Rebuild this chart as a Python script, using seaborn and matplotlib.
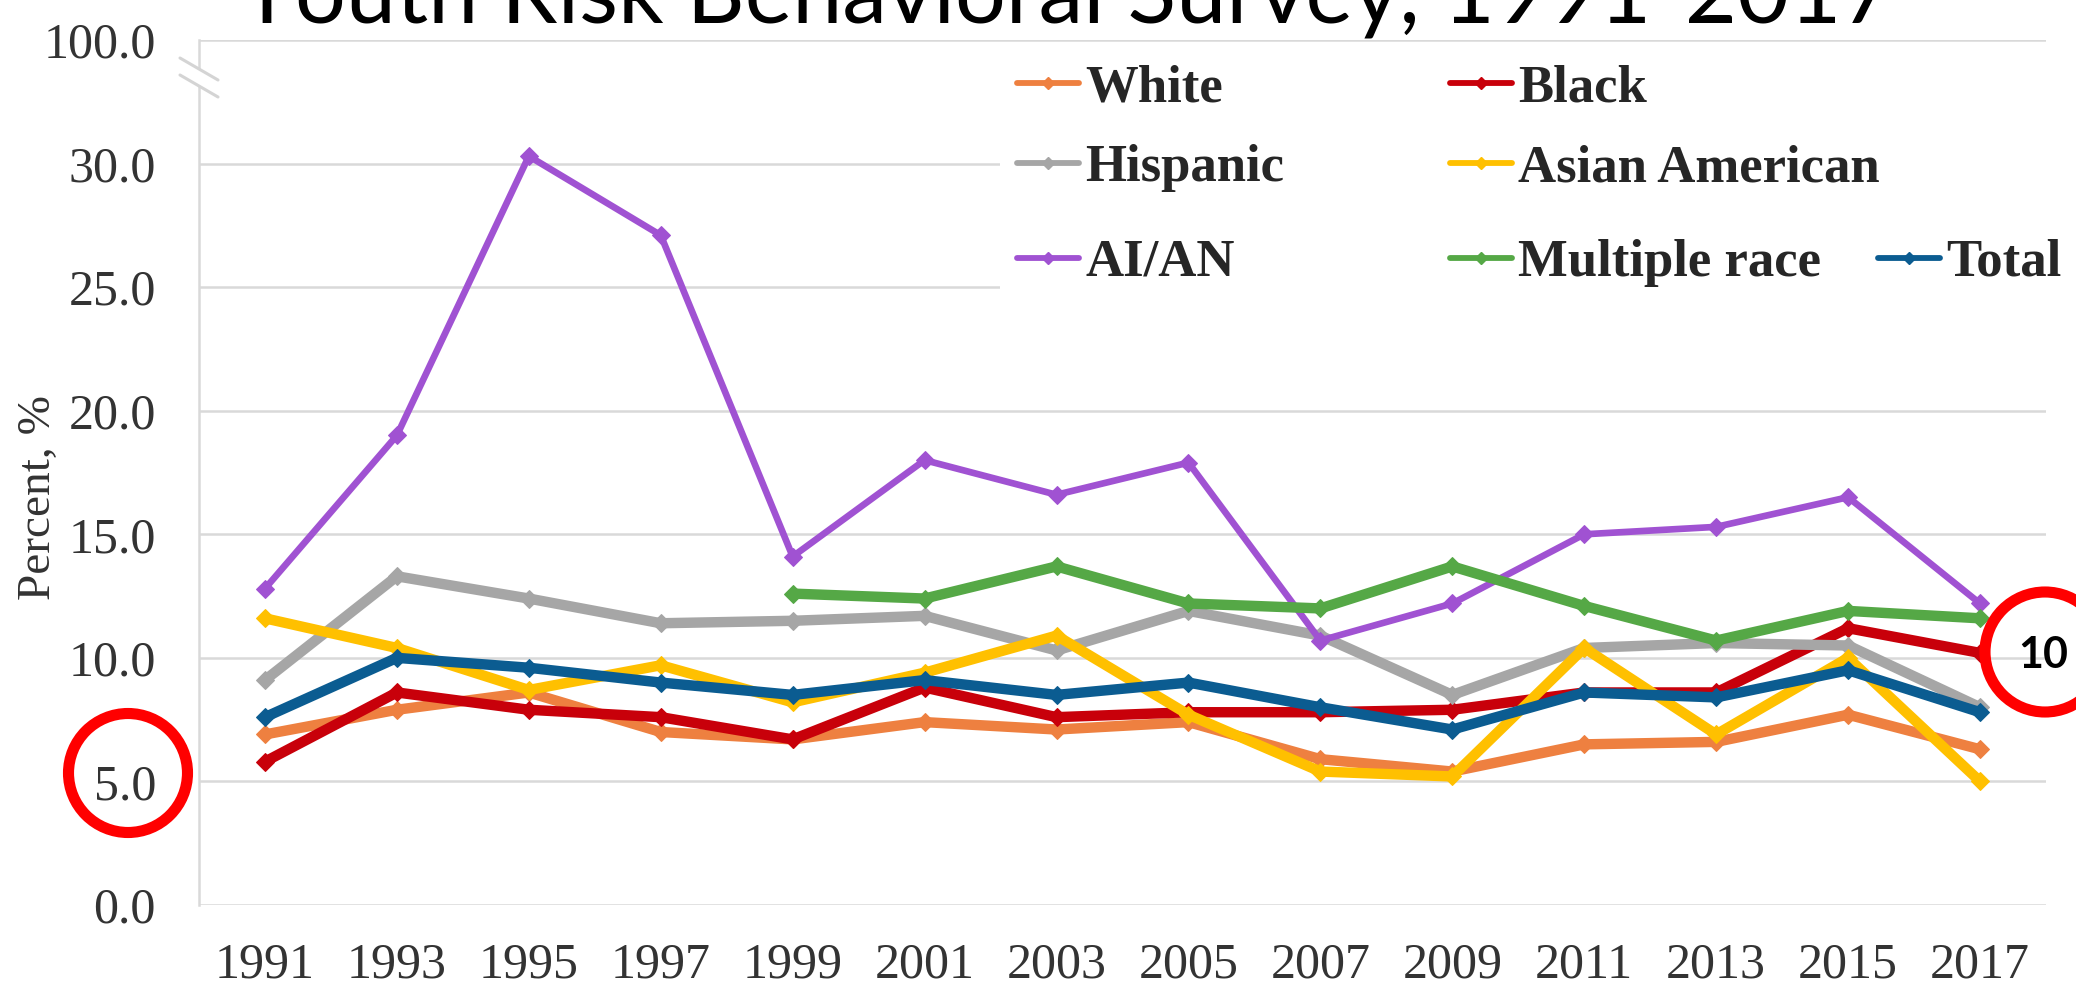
import numpy as np
import pandas as pd
import matplotlib
matplotlib.use("Agg")
import matplotlib.pyplot as plt
from matplotlib.patches import Ellipse, Rectangle, Polygon
from matplotlib.lines import Line2D
from matplotlib.font_manager import FontProperties
import seaborn as sns

# ---- data -----------------------------------------------------------------
years = [1991, 1993, 1995, 1997, 1999, 2001, 2003, 2005, 2007, 2009, 2011, 2013, 2015, 2017]
white = [6.9, 7.9, 8.6, 7.0, 6.7, 7.4, 7.1, 7.4, 5.9, 5.4, 6.5, 6.6, 7.7, 6.3]
black = [5.8, 8.6, 7.9, 7.6, 6.7, 8.8, 7.6, 7.8, 7.8, 7.9, 8.6, 8.6, 11.2, 10.2]
hispanic = [9.1, 13.3, 12.4, 11.4, 11.5, 11.7, 10.3, 11.9, 10.9, 8.5, 10.4, 10.6, 10.5, 8.0]
asian_american = [11.6, 10.4, 8.7, 9.7, 8.2, 9.4, 10.9, 7.7, 5.4, 5.2, 10.4, 6.9, 10.0, 5.0]
ai_an = [12.8, 19.0, 30.3, 27.1, 14.1, 18.0, 16.6, 17.9, 10.7, 12.2, 15.0, 15.3, 16.5, 12.2]
multiple_race = [np.nan, np.nan, np.nan, np.nan, 12.6, 12.4, 13.7, 12.2, 12.0, 13.7, 12.1, 10.7, 11.9, 11.6]
total = [7.6, 10.0, 9.6, 9.0, 8.5, 9.1, 8.5, 9.0, 8.0, 7.1, 8.6, 8.4, 9.5, 7.8]

groups = ["White", "Black", "Hispanic", "Asian American", "AI/AN", "Multiple race", "Total"]
series = [white, black, hispanic, asian_american, ai_an, multiple_race, total]
colors = ["#EE8040", "#C8000A", "#A6A6A6", "#FFC000", "#A052D2", "#55A846", "#0B5C91"]

y_ticks = [0, 5, 10, 15, 20, 25, 30, 35]
y_tick_labels = ["0.0", "5.0", "10.0", "15.0", "20.0", "25.0", "30.0", "100.0"]
title_text = "Youth Risk Behavioral Survey, 1991-2017"
y_label = "Percent, %"
note_text = "10"

df = pd.DataFrame({
    "Year": np.tile(years, len(groups)),
    "Percent": np.concatenate([np.asarray(s, dtype=float) for s in series]),
    "Group": np.repeat(groups, len(years)),
})

# ---- figure ---------------------------------------------------------------
W, H = 2076, 993
sns.set_theme(style="white")
plt.rcParams["font.family"] = ["Liberation Serif", "DejaVu Serif"]

fig = plt.figure(figsize=(W / 100, H / 100), dpi=100)
fig.patch.set_facecolor("white")

ax_left, ax_right, ax_top, ax_bottom = 199, 2046, 40, 905
ax = fig.add_axes([ax_left / W, 1 - ax_bottom / H, (ax_right - ax_left) / W, (ax_bottom - ax_top) / H])

grid_color = "#D9D9D9"
for g, col in zip(groups, colors):
    lw = 4.8 if g == "AI/AN" else 7.5
    sns.lineplot(data=df[df["Group"] == g], x="Year", y="Percent", ax=ax,
                 color=col, lw=lw, marker="D", markersize=9,
                 markeredgecolor=col, errorbar=None, legend=False, zorder=3)
for line in ax.lines:
    line.set_solid_joinstyle("round")

ax.set_xlim(1990, 2018)
ax.set_ylim(0, 35)
ax.set_xticks(years)
ax.set_xticklabels([str(y) for y in years])
ax.set_yticks(y_ticks)
ax.set_yticklabels(y_tick_labels)
ax.set_xlabel("")
ax.set_ylabel("")
ax.grid(axis="y", color=grid_color, linewidth=1.8, zorder=0)
ax.grid(axis="x", visible=False)
ax.set_axisbelow(True)
for side in ["top", "right", "bottom"]:
    ax.spines[side].set_visible(False)
ax.spines["left"].set_color(grid_color)
ax.spines["left"].set_linewidth(1.8)
ax.tick_params(axis="y", length=0, pad=31, labelsize=36, labelcolor="#333333")
ax.tick_params(axis="x", length=0, pad=27, labelsize=36, labelcolor="#333333")

# break marks on the value axis between 30 and 100
def fx(px):
    return px / W

def fy(py):
    return 1 - py / H

band = Polygon([(fx(180), fy(58)), (fx(218), fy(80)), (fx(218), fy(97)), (fx(180), fy(75))],
               closed=True, transform=fig.transFigure, facecolor="white", edgecolor="none", zorder=4)
fig.add_artist(band)
for off in (0, 17):
    fig.add_artist(Line2D([fx(180), fx(218)], [fy(58 + off), fy(80 + off)],
                          transform=fig.transFigure, color="#D4D4D4", linewidth=2.2, zorder=5))

# white panel behind the legend
fig.add_artist(Rectangle((fx(1000), fy(315)), fx(2050) - fx(1000), fy(56) - fy(315),
                         transform=fig.transFigure, facecolor="white", edgecolor="none", zorder=2))

# legend entries
legend_pos = {
    "White": (1017, 88), "Black": (1450, 88),
    "Hispanic": (1017, 168), "Asian American": (1450, 168),
    "AI/AN": (1017, 263), "Multiple race": (1450, 263), "Total": (1878, 263),
}
leg_font = FontProperties(family="Liberation Serif", weight="bold", size=38)
fs_px = 38 * 100 / 72
for g, col in zip(groups, colors):
    handle = Line2D([], [], color=col, linewidth=4.2, marker="D", markersize=6, markeredgecolor=col)
    x, y = legend_pos[g]
    fig.legend(handles=[handle], labels=[g], loc="center left",
               bbox_to_anchor=(fx(x), fy(y)), bbox_transform=fig.transFigure,
               frameon=False, borderpad=0, borderaxespad=0,
               handlelength=62 / fs_px, handletextpad=6 / fs_px, prop=leg_font)

# axis title
fig.text(fx(39), fy(498), y_label, rotation=90, ha="center", va="center",
         fontsize=34, color="#333333", family="Liberation Serif")

# slide title, partly above the top edge
title = fig.text(fx(239), fy(23), title_text, ha="left", va="baseline",
                 fontsize=60, color="black", family="Lato")
fig.canvas.draw()
w_px = title.get_window_extent(renderer=fig.canvas.get_renderer()).width
title.set_fontsize(60 * 1655 / w_px)

# highlight circles
for cx, cy, d in [(128, 773, 119), (2045, 652, 120)]:
    fig.add_artist(Ellipse((fx(cx), fy(cy)), d / W, d / H, transform=fig.transFigure,
                           facecolor="none", edgecolor="#FF0000", linewidth=8.0, zorder=6))
fig.text(fx(2043), fy(655), note_text, ha="center", va="center", fontsize=31,
         fontweight="bold", color="black", family="Lato", zorder=7)

fig.savefig("out.png", dpi=100, facecolor="white")
